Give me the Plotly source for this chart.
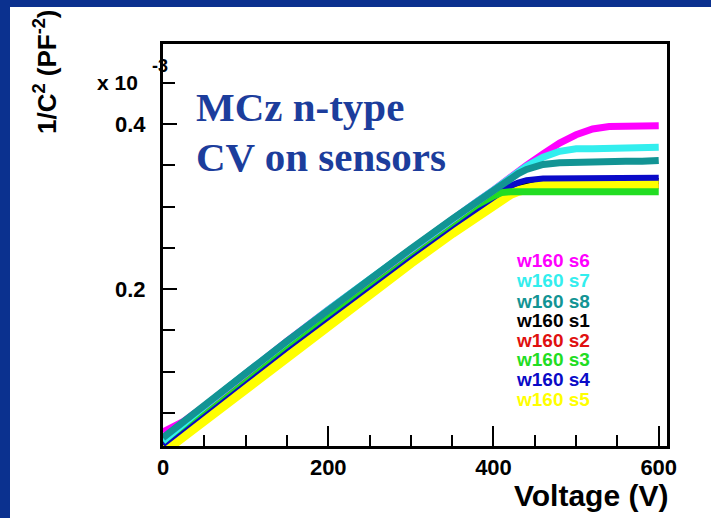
import plotly.graph_objects as go

# ---- data (values in units of 1e-3 pF^-2) ----
voltage = [0, 25, 50, 100, 150, 200, 250, 300, 350, 380, 400, 410, 420, 430, 440, 460, 480, 500, 520, 540, 560, 580, 600]

s6 = [0.027, 0.040, 0.058, 0.098, 0.137, 0.175, 0.212, 0.249, 0.285, 0.306, 0.320, 0.328, 0.335, 0.343, 0.350, 0.364, 0.377, 0.387, 0.394, 0.397, 0.398, 0.398, 0.398]
s7 = [0.016, 0.038, 0.058, 0.098, 0.137, 0.175, 0.212, 0.249, 0.285, 0.306, 0.320, 0.328, 0.335, 0.342, 0.349, 0.360, 0.367, 0.370, 0.370, 0.371, 0.371, 0.372, 0.372]
s8 = [0.020, 0.039, 0.058, 0.098, 0.137, 0.175, 0.212, 0.249, 0.285, 0.306, 0.320, 0.327, 0.334, 0.340, 0.345, 0.351, 0.353, 0.354, 0.354, 0.354, 0.355, 0.355, 0.356]
s1 = [0.011, 0.030, 0.049, 0.089, 0.128, 0.166, 0.203, 0.240, 0.276, 0.297, 0.311, 0.318, 0.324, 0.328, 0.330, 0.331, 0.331, 0.331, 0.331, 0.331, 0.331, 0.331, 0.331]
s2 = [0.010, 0.029, 0.048, 0.088, 0.127, 0.165, 0.202, 0.239, 0.275, 0.296, 0.310, 0.316, 0.321, 0.324, 0.325, 0.325, 0.325, 0.325, 0.325, 0.325, 0.325, 0.325, 0.325]
s3 = [0.016, 0.035, 0.054, 0.094, 0.133, 0.171, 0.208, 0.245, 0.281, 0.302, 0.313, 0.317, 0.318, 0.318, 0.318, 0.318, 0.318, 0.318, 0.318, 0.318, 0.318, 0.318, 0.318]
s4 = [0.012, 0.031, 0.050, 0.090, 0.129, 0.167, 0.204, 0.241, 0.277, 0.298, 0.312, 0.319, 0.325, 0.329, 0.332, 0.334, 0.334, 0.334, 0.334, 0.334, 0.334, 0.334, 0.335]
s5 = [0.003, 0.022, 0.041, 0.081, 0.120, 0.158, 0.195, 0.232, 0.268, 0.289, 0.303, 0.309, 0.315, 0.319, 0.322, 0.326, 0.327, 0.327, 0.327, 0.327, 0.327, 0.327, 0.327]

series_names = ["w160 s6", "w160 s7", "w160 s8", "w160 s1", "w160 s2", "w160 s3", "w160 s4", "w160 s5"]
series_values = [s6, s7, s8, s1, s2, s3, s4, s5]
series_colors = ["#ff00ff", "#33eeee", "#129494", "#000000", "#e01010", "#22dd22", "#0a0ac8", "#ffff00"]
series_widths = [7, 7, 7, 6, 6, 7, 6, 10]
draw_order = ["w160 s2", "w160 s1", "w160 s5", "w160 s4", "w160 s3", "w160 s6", "w160 s7", "w160 s8"]

x_ticks = [0, 200, 400, 600]
y_ticks = [0.2, 0.4]

# ---- geometry (pixels) ----
W, H = 711, 518
L, R, T, B = 163, 44, 44, 72
pw, ph = W - L - R, H - T - B

def px(xp):
    return (xp - L) / pw

def py(yp):
    return (H - B - yp) / ph

fig = go.Figure()
for name in draw_order:
    i = series_names.index(name)
    fig.add_trace(go.Scatter(x=voltage, y=series_values[i], mode="lines",
                             line=dict(color=series_colors[i], width=series_widths[i]),
                             name=name, showlegend=False, cliponaxis=True))

bold = dict(family="Arial, Liberation Sans, sans-serif", weight="bold", color="black")

fig.update_layout(
    width=W, height=H, margin=dict(l=L, r=R, t=T, b=B),
    paper_bgcolor="white", plot_bgcolor="white",
    xaxis=dict(range=[0, 610], tickvals=x_ticks, ticks="inside", ticklen=20, tickwidth=1.5,
               tickcolor="black", showgrid=False, zeroline=False, showline=True, mirror=True,
               linecolor="black", linewidth=3, tickfont=dict(size=22, **bold),
               ticklabelstandoff=0,
               minor=dict(dtick=50, tick0=0, ticks="inside", ticklen=11, tickwidth=1.5, tickcolor="black")),
    yaxis=dict(range=[0.01, 0.497], tickvals=y_ticks, ticks="inside", ticklen=14, tickwidth=1.5,
               tickcolor="black", showgrid=False, zeroline=False, showline=True, mirror=True,
               linecolor="black", linewidth=3, tickfont=dict(size=22, **bold),
               ticklabelstandoff=10, tickformat=".1f",
               minor=dict(dtick=0.05, tick0=0, ticks="inside", ticklen=12, tickwidth=1.5, tickcolor="black")),
)

# slide background strips
blue = "#0b318f"
fig.add_shape(type="rect", xref="paper", yref="paper", x0=px(0), x1=px(10), y0=py(H), y1=py(0),
              fillcolor=blue, line=dict(width=0))
fig.add_shape(type="rect", xref="paper", yref="paper", x0=px(0), x1=px(W), y0=py(7), y1=py(0),
              fillcolor=blue, line=dict(width=0))

# axis titles
fig.add_annotation(xref="paper", yref="paper", x=px(45), y=py(72), text="1/C<sup>2</sup> (PF<sup>-2</sup>)",
                   textangle=-90, showarrow=False, font=dict(size=26, **bold), xanchor="center", yanchor="middle")
fig.add_annotation(xref="paper", yref="paper", x=px(670), y=py(495), text="Voltage (V)",
                   showarrow=False, font=dict(size=30, **bold), xanchor="right", yanchor="middle")
fig.add_annotation(xref="paper", yref="paper", x=px(140), y=py(83), text="x 10",
                   showarrow=False, font=dict(size=21, **bold), xanchor="right", yanchor="middle")
fig.add_annotation(xref="paper", yref="paper", x=px(160), y=py(66), text="-3",
                   showarrow=False, font=dict(size=18, **bold), xanchor="center", yanchor="middle")

# slide title text
serif = dict(family="Liberation Serif, Times New Roman, serif", weight="bold", color="#1c3d9c", size=41)
fig.add_annotation(xref="paper", yref="paper", x=px(194), y=py(107), text="MCz n-type",
                   showarrow=False, font=serif, xanchor="left", yanchor="middle")
fig.add_annotation(xref="paper", yref="paper", x=px(194), y=py(157), text="CV on sensors",
                   showarrow=False, font=serif, xanchor="left", yanchor="middle")

# legend as coloured text
legend_y = [260, 280, 301, 320, 340, 359, 379, 399]
for i, name in enumerate(series_names):
    fig.add_annotation(xref="paper", yref="paper", x=px(514), y=py(legend_y[i]), text=name,
                       showarrow=False, font=dict(family="Arial, Liberation Sans, sans-serif", weight="bold",
                                                  size=19, color=series_colors[i]),
                       xanchor="left", yanchor="middle")

fig.write_html("out.html")
